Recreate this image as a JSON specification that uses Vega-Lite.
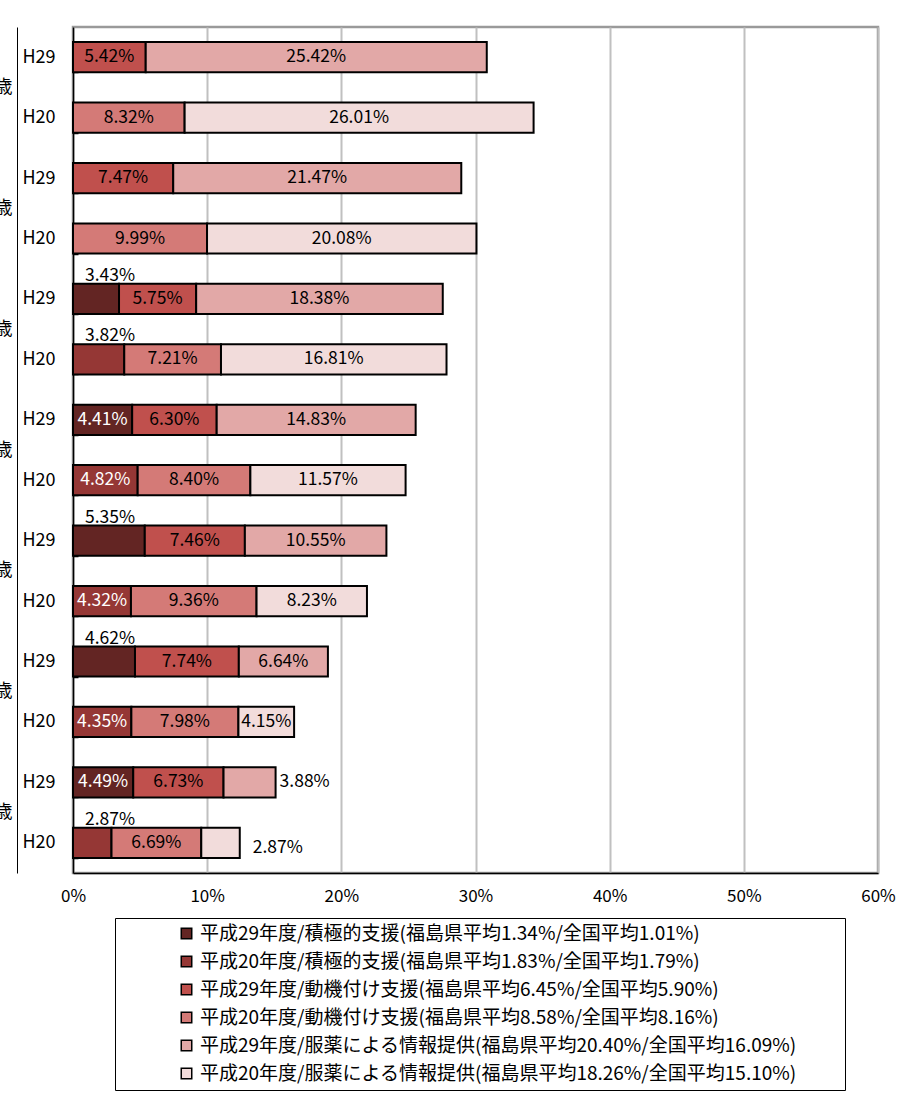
{
  "$schema": "https://vega.github.io/schema/vega-lite/v6.json",
  "width": 805,
  "height": 846,
  "autosize": {"type": "none"},
  "padding": {"left": 73, "top": 27, "right": 34, "bottom": 223},
  "background": "white",
  "config": {
    "font": "Noto Sans CJK JP",
    "view": {"stroke": "#9a9a9a", "strokeWidth": 2.5},
    "axis": {"labelFont": "Noto Sans CJK JP", "labelColor": "black", "labelFontSize": 16},
    "text": {"font": "Noto Sans CJK JP", "fontSize": 17.5}
  },
  "datasets": {
    "rates": [
      {"group": "70～74歳", "year": "H29", "active": null, "motivation": 5.42, "medication": 25.42},
      {"group": "70～74歳", "year": "H20", "active": null, "motivation": 8.32, "medication": 26.01},
      {"group": "65～69歳", "year": "H29", "active": null, "motivation": 7.47, "medication": 21.47},
      {"group": "65～69歳", "year": "H20", "active": null, "motivation": 9.99, "medication": 20.08},
      {"group": "60～64歳", "year": "H29", "active": 3.43, "motivation": 5.75, "medication": 18.38},
      {"group": "60～64歳", "year": "H20", "active": 3.82, "motivation": 7.21, "medication": 16.81},
      {"group": "55～59歳", "year": "H29", "active": 4.41, "motivation": 6.30, "medication": 14.83},
      {"group": "55～59歳", "year": "H20", "active": 4.82, "motivation": 8.40, "medication": 11.57},
      {"group": "50～54歳", "year": "H29", "active": 5.35, "motivation": 7.46, "medication": 10.55},
      {"group": "50～54歳", "year": "H20", "active": 4.32, "motivation": 9.36, "medication": 8.23},
      {"group": "45～49歳", "year": "H29", "active": 4.62, "motivation": 7.74, "medication": 6.64},
      {"group": "45～49歳", "year": "H20", "active": 4.35, "motivation": 7.98, "medication": 4.15},
      {"group": "40～44歳", "year": "H29", "active": 4.49, "motivation": 6.73, "medication": 3.88},
      {"group": "40～44歳", "year": "H20", "active": 2.87, "motivation": 6.69, "medication": 2.87}
    ],
    "series": [
      {"key": "H29_active", "order": 1, "label": "平成29年度/積極的支援(福島県平均1.34%/全国平均1.01%)"},
      {"key": "H20_active", "order": 2, "label": "平成20年度/積極的支援(福島県平均1.83%/全国平均1.79%)"},
      {"key": "H29_motivation", "order": 3, "label": "平成29年度/動機付け支援(福島県平均6.45%/全国平均5.90%)"},
      {"key": "H20_motivation", "order": 4, "label": "平成20年度/動機付け支援(福島県平均8.58%/全国平均8.16%)"},
      {"key": "H29_medication", "order": 5, "label": "平成29年度/服薬による情報提供(福島県平均20.40%/全国平均16.09%)"},
      {"key": "H20_medication", "order": 6, "label": "平成20年度/服薬による情報提供(福島県平均18.26%/全国平均15.10%)"}
    ]
  },
  "data": {"name": "rates"},
  "transform": [
    {"fold": ["active", "motivation", "medication"], "as": ["type", "value"]},
    {"filter": "isValid(datum.value) && datum.value > 0"},
    {"calculate": "datum.group + '|' + datum.year", "as": "row"},
    {"calculate": "datum.year + '_' + datum.type", "as": "key"},
    {"lookup": "key", "from": {"data": {"name": "series"}, "key": "key", "fields": ["order", "label"]}},
    {"stack": "value", "groupby": ["row"], "sort": [{"field": "order", "order": "ascending"}], "as": ["x0", "x1"]},
    {"calculate": "(datum.x0 + datum.x1) / 2", "as": "mid"},
    {"calculate": "format(datum.value, '.2f') + '%'", "as": "txt"},
    {"calculate": "datum.type == 'active' && indexof(['60～64歳|H29','60～64歳|H20','50～54歳|H29','45～49歳|H29','40～44歳|H20'], datum.row) >= 0 ? 'above' : (datum.type == 'medication' && datum.row == '40～44歳|H29' ? 'right1' : (datum.type == 'medication' && datum.row == '40～44歳|H20' ? 'right2' : 'inside'))", "as": "place"}
  ],
  "layer": [
    {
      "layer": [
        {
          "mark": {"type": "bar", "stroke": "black", "strokeWidth": 2},
          "encoding": {
            "y": {
              "field": "row", "type": "nominal", "sort": "descending",
              "scale": {"paddingInner": 0.5, "paddingOuter": 0.25},
              "axis": {"title": null, "labelExpr": "split(datum.label, '|')[1]", "tickBand": "extent", "tickSize": -5, "tickColor": "black", "tickWidth": 1.5, "domainColor": "black", "domainWidth": 1.5, "labelPadding": 23, "labelFontSize": 18}
            },
            "x": {
              "field": "x0", "type": "quantitative",
              "scale": {"domain": [0, 60], "nice": false},
              "axis": {"title": null, "values": [0, 10, 20, 30, 40, 50, 60], "labelExpr": "datum.value + '%'", "labelFlush": false, "grid": true, "gridColor": "#c0c0c0", "gridWidth": 2, "domainColor": "black", "domainWidth": 1.5, "ticks": false, "labelPadding": 15, "labelFontSize": 17}
            },
            "x2": {"field": "x1"},
            "color": {
              "field": "label", "type": "nominal",
              "sort": {"field": "order", "op": "min"},
              "scale": {"range": ["#632523", "#953735", "#C0504D", "#D47A77", "#E2A8A7", "#F2DCDB"]},
              "legend": {
                "title": " ", "titleOrient": "left", "titlePadding": 56,
                "orient": "none", "legendX": 42, "legendY": 891,
                "strokeColor": "black", "fillColor": "white", "padding": 6,
                "rowPadding": 8, "labelFontSize": 19, "labelFont": "Noto Sans CJK JP", "labelColor": "black", "labelLimit": 0,
                "labelExpr": "datum.label + '⠀⠀⠀'",
                "symbolType": "square", "symbolSize": 110, "symbolStrokeColor": "black", "symbolStrokeWidth": 1.5, "labelOffset": 4
              }
            }
          }
        },
        {
          "transform": [{"filter": "datum.place == 'inside'"}],
          "mark": {"type": "text", "align": "center", "baseline": "middle"},
          "encoding": {
            "y": {"field": "row", "type": "nominal", "sort": "descending"},
            "x": {"field": "mid", "type": "quantitative"},
            "text": {"field": "txt"},
            "color": {"condition": {"test": "datum.type == 'active'", "value": "white"}, "value": "black"}
          }
        },
        {
          "transform": [{"filter": "datum.place == 'above'"}],
          "mark": {"type": "text", "align": "left", "baseline": "middle", "dx": 12, "dy": -23, "color": "black"},
          "encoding": {
            "y": {"field": "row", "type": "nominal", "sort": "descending"},
            "x": {"field": "x0", "type": "quantitative"},
            "text": {"field": "txt"}
          }
        },
        {
          "transform": [{"filter": "datum.place == 'right1'"}],
          "mark": {"type": "text", "align": "left", "baseline": "middle", "dx": 4, "color": "black"},
          "encoding": {
            "y": {"field": "row", "type": "nominal", "sort": "descending"},
            "x": {"field": "x1", "type": "quantitative"},
            "text": {"field": "txt"}
          }
        },
        {
          "transform": [{"filter": "datum.place == 'right2'"}],
          "mark": {"type": "text", "align": "left", "baseline": "middle", "dx": 13, "dy": 5, "color": "black"},
          "encoding": {
            "y": {"field": "row", "type": "nominal", "sort": "descending"},
            "x": {"field": "x1", "type": "quantitative"},
            "text": {"field": "txt"}
          }
        }
      ]
    },
    {
      "mark": {"type": "text", "text": ""},
      "encoding": {
        "y": {
          "field": "group", "type": "nominal", "sort": "descending",
          "scale": {"paddingInner": 0, "paddingOuter": 0},
          "axis": {"title": null, "orient": "left", "offset": 56, "ticks": false, "domainColor": "black", "domainWidth": 1, "labelPadding": 5, "labelFontSize": 18}
        }
      }
    }
  ],
  "resolve": {"scale": {"y": "independent"}, "axis": {"y": "independent"}}
}
